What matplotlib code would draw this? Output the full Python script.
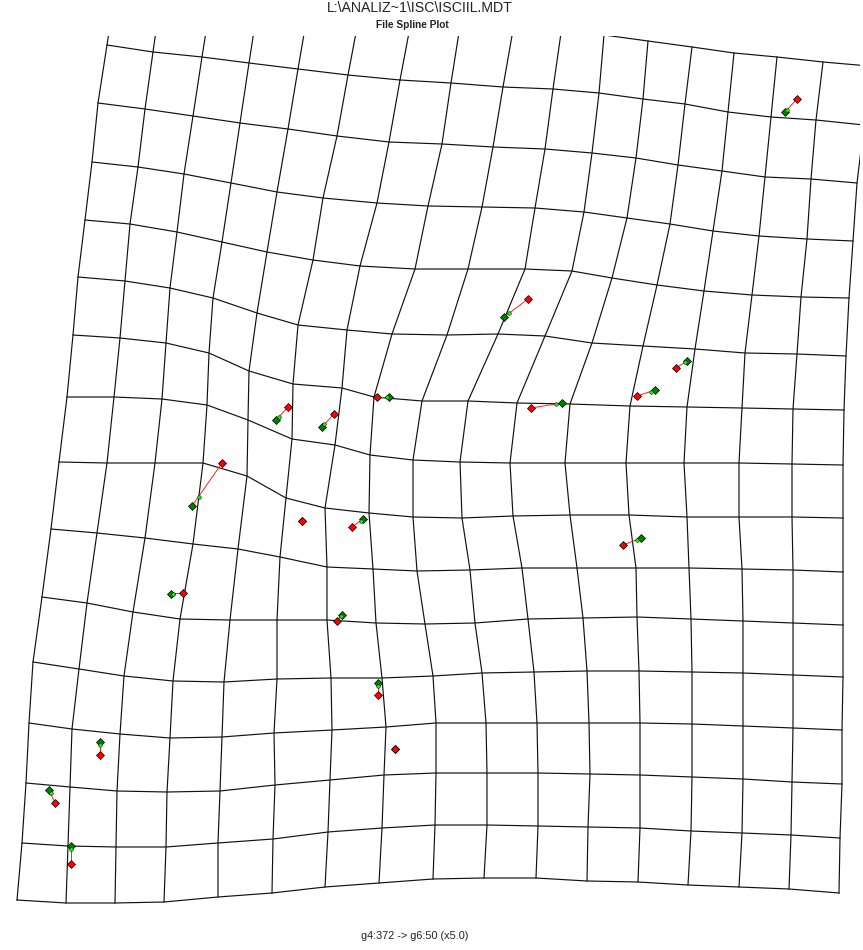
import numpy as np
import matplotlib
matplotlib.use("Agg")
import matplotlib.pyplot as plt

plt.rcParams['font.family'] = ['Liberation Sans', 'DejaVu Sans']

title = "L:\\ANALIZ~1\\ISC\\ISCIIL.MDT"
subtitle = "File Spline Plot"
footer = "g4:372 -> g6:50 (x5.0)"

# warped grid nodes (pixel coords), 16 rows x 17 columns
# row 0 lies mostly above the plot window, so it is estimated
grid_x = [
    [116, 161, 211, 258, 308, 359, 411, 460, 513, 561, 604, 648, 692, 734, 777, 823, 869],
    [107, 153, 202, 249, 298, 348, 400, 451, 503, 553, 599, 643, 685, 728, 771, 816, 864],
    [98, 145, 193, 240, 288, 337, 389, 442, 493, 545, 592, 636, 678, 722, 765, 811, 857],
    [92, 138, 184, 231, 277, 323, 377, 428, 482, 535, 584, 627, 670, 713, 759, 807, 853],
    [85, 130, 177, 222, 267, 313, 360, 415, 468, 525, 572, 612, 657, 704, 752, 801, 849],
    [78, 125, 170, 213, 257, 298, 347, 392, 447, 498, 545, 592, 643, 695, 745, 797, 846],
    [73, 120, 166, 209, 249, 293, 342, 374, 422, 468, 517, 570, 630, 687, 742, 793, 844],
    [67, 114, 162, 207, 248, 292, 335, 370, 413, 460, 510, 565, 626, 684, 739, 792, 843],
    [59, 107, 155, 203, 247, 286, 325, 369, 413, 462, 513, 570, 629, 687, 739, 792, 843],
    [51, 97, 145, 193, 238, 280, 327, 373, 417, 470, 522, 577, 636, 689, 742, 793, 843],
    [42, 87, 133, 180, 230, 277, 327, 376, 425, 475, 528, 583, 637, 691, 743, 793, 843],
    [33, 79, 124, 173, 224, 277, 331, 382, 433, 482, 534, 587, 639, 692, 743, 793, 843],
    [29, 72, 120, 170, 222, 274, 332, 386, 436, 486, 537, 589, 640, 692, 743, 793, 842],
    [26, 70, 117, 167, 220, 275, 330, 384, 436, 487, 538, 590, 640, 692, 743, 792, 842],
    [22, 68, 116, 166, 218, 273, 328, 382, 435, 487, 538, 588, 640, 691, 742, 791, 840],
    [17, 66, 115, 164, 218, 272, 325, 379, 433, 484, 536, 587, 638, 688, 739, 789, 839],
]
grid_y = [
    [-13, -5, 0, 5, 11, 17, 22, 26, 30, 33, 35, 41, 47, 53, 57, 62, 66],
    [45, 52, 57, 63, 69, 75, 80, 83, 87, 89, 93, 99, 104, 112, 117, 120, 125],
    [103, 109, 116, 123, 129, 136, 142, 144, 147, 149, 153, 158, 165, 171, 177, 179, 183],
    [162, 167, 174, 183, 192, 198, 203, 206, 207, 208, 212, 218, 224, 231, 236, 239, 241],
    [220, 224, 232, 242, 252, 260, 266, 269, 269, 269, 271, 278, 285, 291, 295, 297, 298],
    [277, 281, 288, 298, 313, 325, 330, 334, 335, 334, 336, 343, 346, 349, 353, 354, 356],
    [335, 338, 343, 353, 371, 384, 388, 397, 401, 401, 403, 404, 406, 407, 408, 409, 410],
    [397, 397, 399, 405, 420, 439, 445, 455, 460, 462, 463, 463, 463, 463, 463, 464, 465],
    [462, 463, 463, 463, 476, 498, 508, 513, 517, 518, 516, 515, 515, 517, 517, 517, 518],
    [529, 533, 538, 544, 549, 557, 567, 569, 571, 570, 568, 568, 568, 568, 569, 570, 572],
    [597, 603, 612, 619, 620, 620, 620, 623, 624, 623, 619, 618, 617, 619, 621, 623, 625],
    [662, 669, 676, 681, 682, 679, 678, 678, 676, 673, 672, 671, 671, 672, 673, 675, 677],
    [723, 729, 734, 738, 737, 733, 730, 727, 723, 723, 723, 723, 723, 724, 726, 728, 730],
    [783, 787, 791, 792, 791, 785, 780, 775, 773, 773, 773, 774, 775, 777, 779, 782, 784],
    [843, 846, 847, 847, 843, 839, 832, 828, 825, 825, 826, 827, 828, 831, 833, 835, 838],
    [900, 903, 903, 902, 897, 893, 887, 883, 879, 878, 878, 881, 882, 885, 887, 889, 893],
]

# landmarks: red = one configuration, green = other, light green = intermediate
red_x = [797, 528, 676, 637, 623, 377, 531, 334, 288, 222, 302, 352, 183, 337, 378, 395, 100, 55, 71]
red_y = [99, 299, 368, 396, 545, 397, 408, 414, 407, 463, 521, 527, 593, 621, 695, 749, 755, 803, 864]
green_x = [785, 504, 687, 655, 641, 389, 562, 322, 276, 192, 302, 363, 171, 342, 378, 395, 100, 49, 71]
green_y = [112, 317, 361, 390, 538, 397, 403, 427, 420, 506, 521, 519, 594, 615, 683, 749, 742, 790, 846]
mid_x = [787, 509, 685, 651, 637, 387, 556, 324, 279, 199, 302, 361, 173, 341, 378, 395, 100, 51, 71]
mid_y = [110, 313, 362, 392, 540, 397, 404, 424, 417, 497, 521, 521, 594, 616, 686, 749, 745, 793, 849]

W, H = 863, 950
fig = plt.figure(figsize=(W / 100, H / 100), dpi=100)
fig.patch.set_facecolor('white')

# text layer over the whole figure, in pixel units
bg = fig.add_axes([0, 0, 1, 1])
bg.set_xlim(0, W)
bg.set_ylim(H, 0)
bg.axis('off')
bg.text(420, 8, title, ha='center', va='center', fontsize=10.2, color='#222222')
bg.text(412, 25, subtitle, ha='center', va='center', fontsize=7.3,
        fontweight='bold', color='#222222')
bg.text(415, 936, footer, ha='center', va='center', fontsize=7.8, color='#222222')

# plot window (clips the grid at the top and right)
top, bottom, right = 36, 915, 860
ax = fig.add_axes([0, 1 - bottom / H, right / W, (bottom - top) / H])
ax.set_xlim(0, right)
ax.set_ylim(bottom, top)
ax.axis('off')

gx = np.array(grid_x)
gy = np.array(grid_y)
for i in range(gx.shape[0]):
    ax.plot(gx[i], gy[i], color='#111111', lw=0.85)
for j in range(gx.shape[1]):
    ax.plot(gx[:, j], gy[:, j], color='#111111', lw=0.85)

for k in range(len(red_x)):
    ax.plot([red_x[k], green_x[k]], [red_y[k], green_y[k]], color='#ff2020', lw=0.7)
ax.plot(green_x, green_y, 'D', ms=4, color='#008000', mec='black', mew=0.5, ls='none')
ax.plot(mid_x, mid_y, 'o', ms=2.6, color='#00ff00', mec='black', mew=0.35, ls='none')
ax.plot(red_x, red_y, 'D', ms=4, color='#ff0000', mec='black', mew=0.5, ls='none')

fig.savefig('out.png', dpi=100)
